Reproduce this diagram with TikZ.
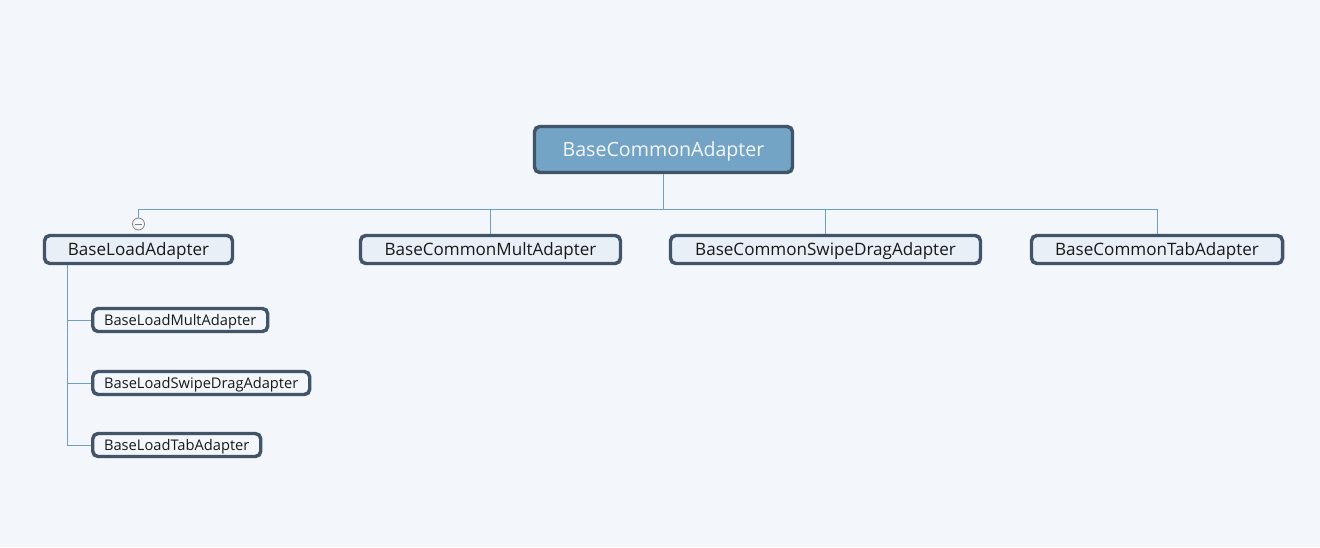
\documentclass[tikz,border=0pt]{standalone}
\usepackage{fontspec}
\setmainfont{Open Sans}
\usetikzlibrary{positioning}
\definecolor{paperColor}{RGB}{243,246,251}
\definecolor{rootColor}{RGB}{116,164,197}
\definecolor{frameColor}{RGB}{65,84,105}
\definecolor{childColor}{RGB}{232,239,247}
\definecolor{branchColor}{RGB}{110,158,196}
\definecolor{toggleColor}{RGB}{130,130,130}
\newcommand{\px}{0.75pt}
\tikzstyle{mindMap} = [x = 0.75pt, y = -0.75pt]
\tikzstyle{boxBase} = [draw=frameColor, line width=2.6pt, rounded corners=4pt, inner sep=0pt, text depth=0pt]
\tikzstyle{rootBox} = [boxBase, fill=rootColor, text=paperColor, minimum height=46*\px, font=\fontsize{14.7}{17}\selectfont]
\tikzstyle{childBox} = [boxBase, fill=childColor, text=black!90, minimum height=28*\px, font=\fontsize{12.8}{15}\selectfont]
\tikzstyle{leafBox} = [boxBase, fill=paperColor, text=black!90, minimum height=23*\px, font=\fontsize{11}{13}\selectfont]
\tikzstyle{branchLine} = [draw=branchColor, line width=0.75pt]
\tikzstyle{toggleStyle} = [circle, draw=toggleColor, fill=paperColor, line width=0.6pt, minimum size=12*\px, inner sep=0pt]
\begin{document}
\begin{tikzpicture}[mindMap]
  \fill [paperColor] (0,0) rectangle (1320,547);
  \useasboundingbox (0,0) rectangle (1320,547);

  % main topic
  \node [rootBox, minimum width=258*\px] (root) at (663.5,149.5) {BaseCommonAdapter};

  % first level
  \node [childBox, minimum width=188*\px] (loadBase) at (138.5,249.5) {BaseLoadAdapter};
  \node [childBox, minimum width=260*\px] (commonMult) at (490.5,249.5) {BaseCommonMultAdapter};
  \node [childBox, minimum width=310*\px] (commonSwipe) at (825.5,249.5) {BaseCommonSwipeDragAdapter};
  \node [childBox, minimum width=251*\px] (commonTab) at (1157,249.5) {BaseCommonTabAdapter};
  \node [toggleStyle] (loadToggle) at (138.5,224) {};
  \draw [toggleColor, line width=0.6pt] ([xshift=-2.6pt]loadToggle.center) -- ([xshift=2.6pt]loadToggle.center);

  % second level
  \node [leafBox, minimum width=175*\px, anchor=west] (loadMult) at (91,320) {BaseLoadMultAdapter};
  \node [leafBox, minimum width=217*\px, anchor=west] (loadSwipe) at (91,383) {BaseLoadSwipeDragAdapter};
  \node [leafBox, minimum width=168*\px, anchor=west] (loadTab) at (91,445) {BaseLoadTabAdapter};

  \draw [branchLine] (root.south) -- ++(0,35) -| (loadToggle.north);
  \draw [branchLine] (root.south) -- ++(0,35) -| (commonMult.north);
  \draw [branchLine] (root.south) -- ++(0,35) -| (commonSwipe.north);
  \draw [branchLine] (root.south) -- ++(0,35) -| (commonTab.north);
  \draw [branchLine] ([xshift=25*\px]loadBase.south west) |- (loadMult.west);
  \draw [branchLine] ([xshift=25*\px]loadBase.south west) |- (loadSwipe.west);
  \draw [branchLine] ([xshift=25*\px]loadBase.south west) |- (loadTab.west);
\end{tikzpicture}
\end{document}
